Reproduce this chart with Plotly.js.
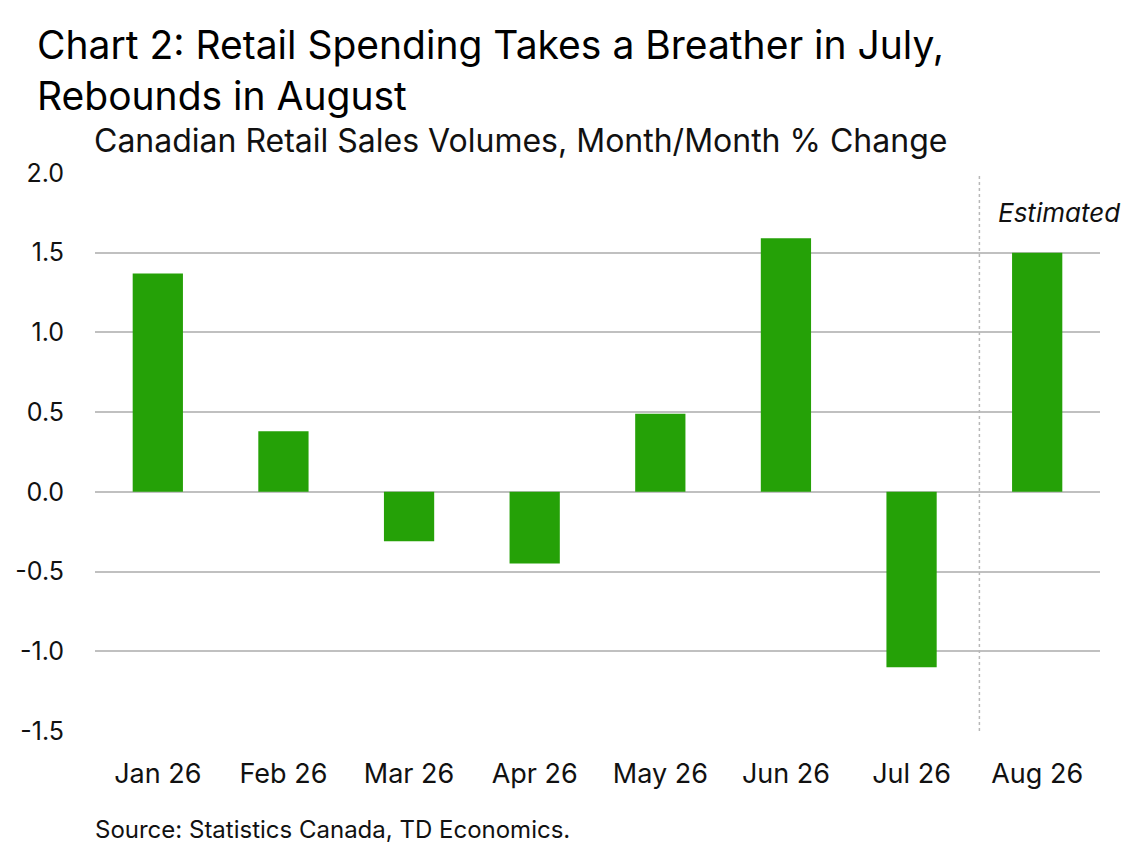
<!DOCTYPE html>
<html>
<head>
<meta charset="utf-8">
<script src="https://cdn.plot.ly/plotly-3.0.1.min.js"></script>
<style>
  body { margin: 0; background: #fff; }
  #chart { width: 1139px; height: 850px; }
</style>
</head>
<body>
<div id="chart"></div>
<script>
// months shown on the x axis
var months = ['Jan 26', 'Feb 26', 'Mar 26', 'Apr 26', 'May 26', 'Jun 26', 'Jul 26', 'Aug 26'];
// m/m % change in retail sales volumes (Aug is the estimate)
var volumeChange = [1.37, 0.38, -0.31, -0.45, 0.49, 1.59, -1.10, 1.50];
var yTicks = [-1.5, -1.0, -0.5, 0.0, 0.5, 1.0, 1.5, 2.0];
var yTickText = ['-1.5', '-1.0', '-0.5', '0.0', '0.5', '1.0', '1.5', '2.0'];

var FONT = 'Inter, "Open Sans", sans-serif';
var GREEN = '#25a107';
var GRID = '#c0c0c0';

var trace = {
  x: months,
  y: volumeChange,
  type: 'bar',
  marker: { color: GREEN },
  hoverinfo: 'x+y'
};

var layout = {
  width: 1139,
  height: 850,
  paper_bgcolor: '#fff',
  plot_bgcolor: '#fff',
  showlegend: false,
  bargap: 0.6,
  font: { family: FONT, color: '#111', size: 24 },
  margin: { l: 95, r: 39, t: 173, b: 119, pad: 0 },
  xaxis: {
    type: 'category',
    showgrid: false,
    showline: false,
    ticks: '',
    tickfont: { family: FONT, size: 27, color: '#111' },
    ticklabelstandoff: 24
  },
  yaxis: {
    range: [-1.5, 2.0],
    tickvals: yTicks,
    ticktext: yTickText,
    showgrid: true,
    gridcolor: GRID,
    gridwidth: 2,
    zeroline: true,
    zerolinecolor: GRID,
    zerolinewidth: 2,
    showline: false,
    ticks: '',
    ticklabelstandoff: 30,
    tickfont: { family: FONT, size: 25, color: '#111' }
  },
  shapes: [{
    type: 'line',
    xref: 'x', yref: 'paper',
    x0: 6.54, x1: 6.54, y0: 0, y1: 1,
    line: { color: '#b8b8b8', width: 1.5, dash: 'dot' }
  }],
  annotations: [
    {
      text: 'Chart 2: Retail Spending Takes a Breather in July,<br>Rebounds in August',
      xref: 'paper', yref: 'paper',
      x: -0.0597, y: 1.1846,
      xanchor: 'left', yanchor: 'middle', align: 'left',
      showarrow: false,
      font: { family: FONT, size: 39, color: '#000' }
    },
    {
      text: 'Canadian Retail Sales Volumes, Month/Month % Change',
      xref: 'paper', yref: 'paper',
      x: -0.003, y: 1.059,
      xanchor: 'left', yanchor: 'middle',
      showarrow: false,
      font: { family: FONT, size: 32, color: '#111' }
    },
    {
      text: '<i>Estimated</i>',
      xref: 'paper', yref: 'y',
      x: 0.8965, y: 1.75,
      xanchor: 'left', yanchor: 'middle',
      showarrow: false,
      font: { family: FONT, size: 26, color: '#111' }
    },
    {
      text: 'Source: Statistics Canada, TD Economics.',
      xref: 'paper', yref: 'paper',
      x: -0.002, y: -0.176,
      xanchor: 'left', yanchor: 'middle',
      showarrow: false,
      font: { family: FONT, size: 24, color: '#111' }
    }
  ]
};

Plotly.newPlot('chart', [trace], layout, { staticPlot: true, displayModeBar: false });
</script>
</body>
</html>
